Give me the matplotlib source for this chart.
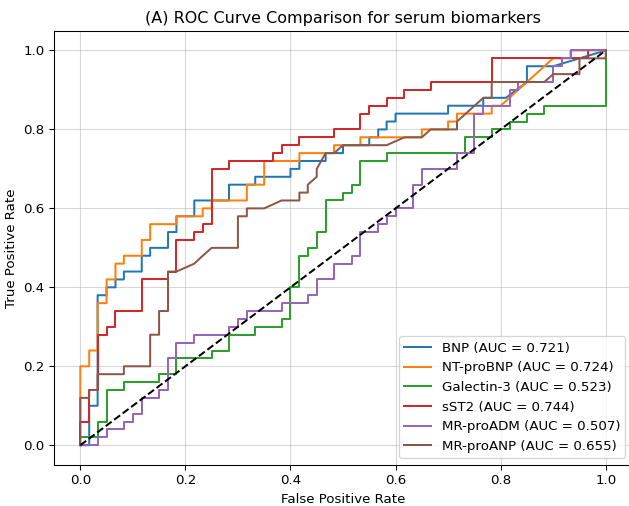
import numpy as np
import matplotlib
matplotlib.use("Agg")
import matplotlib.pyplot as plt

# ROC corner points (fpr, tpr)
bnp = [(0, 0), (0.017, 0), (0.017, 0.10), (0.033, 0.10), (0.033, 0.38), (0.05, 0.38), (0.05, 0.40),
       (0.067, 0.40), (0.067, 0.42), (0.083, 0.42), (0.083, 0.44), (0.117, 0.44), (0.117, 0.48),
       (0.133, 0.48), (0.133, 0.50), (0.167, 0.50), (0.167, 0.54), (0.183, 0.54), (0.183, 0.58),
       (0.217, 0.58), (0.217, 0.62), (0.283, 0.62), (0.283, 0.66), (0.333, 0.66), (0.333, 0.68),
       (0.40, 0.68), (0.40, 0.70), (0.417, 0.70), (0.417, 0.72), (0.467, 0.72), (0.467, 0.74),
       (0.50, 0.74), (0.50, 0.76), (0.55, 0.76), (0.55, 0.78), (0.567, 0.78), (0.567, 0.80),
       (0.583, 0.80), (0.583, 0.82), (0.60, 0.82), (0.60, 0.84), (0.70, 0.84), (0.70, 0.86),
       (0.767, 0.86), (0.767, 0.88), (0.81, 0.88), (0.85, 0.92), (0.85, 0.96), (0.90, 0.96), (1.0, 1.0)]

nt_probnp = [(0, 0), (0, 0.20), (0.017, 0.20), (0.017, 0.24), (0.033, 0.24), (0.033, 0.36), (0.05, 0.36),
             (0.05, 0.42), (0.067, 0.42), (0.067, 0.46), (0.083, 0.46), (0.083, 0.48), (0.117, 0.48),
             (0.117, 0.52), (0.133, 0.52), (0.133, 0.56), (0.183, 0.56), (0.183, 0.58), (0.233, 0.58),
             (0.233, 0.60), (0.25, 0.60), (0.25, 0.62), (0.317, 0.62), (0.317, 0.66), (0.35, 0.66),
             (0.35, 0.72), (0.417, 0.72), (0.417, 0.74), (0.483, 0.74), (0.483, 0.76), (0.533, 0.76),
             (0.533, 0.78), (0.65, 0.78), (0.65, 0.80), (0.70, 0.80), (0.70, 0.82), (0.717, 0.82),
             (0.717, 0.84), (0.783, 0.84), (0.783, 0.86), (0.80, 0.86), (0.90, 0.98), (0.933, 0.98),
             (0.933, 1.0), (1.0, 1.0)]

galectin3 = [(0, 0), (0, 0.02), (0.033, 0.02), (0.033, 0.06), (0.05, 0.06), (0.05, 0.14), (0.083, 0.14),
             (0.083, 0.16), (0.15, 0.16), (0.15, 0.18), (0.183, 0.18), (0.183, 0.22), (0.25, 0.22),
             (0.25, 0.24), (0.283, 0.24), (0.283, 0.28), (0.333, 0.28), (0.333, 0.30), (0.383, 0.30),
             (0.383, 0.32), (0.40, 0.32), (0.40, 0.40), (0.417, 0.40), (0.417, 0.48), (0.433, 0.48),
             (0.433, 0.50), (0.45, 0.50), (0.45, 0.54), (0.467, 0.54), (0.467, 0.62), (0.50, 0.62),
             (0.50, 0.64), (0.517, 0.64), (0.517, 0.66), (0.533, 0.66), (0.533, 0.72), (0.583, 0.72),
             (0.583, 0.74), (0.733, 0.74), (0.733, 0.78), (0.783, 0.78), (0.783, 0.80), (0.817, 0.80),
             (0.817, 0.82), (0.85, 0.82), (0.85, 0.84), (0.883, 0.84), (0.883, 0.86), (1.0, 0.86), (1.0, 1.0)]

sst2 = [(0, 0), (0, 0.06), (0.017, 0.06), (0.017, 0.14), (0.033, 0.14), (0.033, 0.28), (0.05, 0.28),
        (0.05, 0.30), (0.067, 0.30), (0.067, 0.34), (0.117, 0.34), (0.117, 0.42), (0.167, 0.42),
        (0.167, 0.44), (0.183, 0.44), (0.183, 0.52), (0.217, 0.52), (0.217, 0.54), (0.233, 0.54),
        (0.233, 0.56), (0.25, 0.56), (0.25, 0.70), (0.283, 0.70), (0.283, 0.72), (0.367, 0.72),
        (0.367, 0.74), (0.383, 0.74), (0.383, 0.76), (0.417, 0.76), (0.417, 0.78), (0.483, 0.78),
        (0.483, 0.80), (0.533, 0.80), (0.533, 0.84), (0.55, 0.84), (0.55, 0.86), (0.583, 0.86),
        (0.583, 0.88), (0.617, 0.88), (0.617, 0.90), (0.667, 0.90), (0.667, 0.92), (0.783, 0.92),
        (0.783, 0.98), (0.967, 0.98), (0.967, 1.0), (1.0, 1.0)]

mr_proadm = [(0, 0), (0.033, 0), (0.033, 0.02), (0.05, 0.02), (0.05, 0.04), (0.083, 0.04), (0.083, 0.06),
             (0.10, 0.06), (0.10, 0.08), (0.117, 0.08), (0.117, 0.12), (0.15, 0.12), (0.15, 0.14),
             (0.167, 0.14), (0.167, 0.22), (0.183, 0.22), (0.183, 0.26), (0.217, 0.26), (0.217, 0.28),
             (0.283, 0.28), (0.283, 0.30), (0.30, 0.30), (0.30, 0.32), (0.317, 0.32), (0.317, 0.34),
             (0.383, 0.34), (0.383, 0.36), (0.433, 0.36), (0.433, 0.38), (0.45, 0.38), (0.45, 0.42),
             (0.483, 0.42), (0.483, 0.46), (0.517, 0.46), (0.517, 0.48), (0.533, 0.48), (0.533, 0.54),
             (0.567, 0.54), (0.567, 0.56), (0.583, 0.56), (0.583, 0.58), (0.60, 0.58), (0.60, 0.60),
             (0.633, 0.60), (0.633, 0.66), (0.65, 0.66), (0.65, 0.70), (0.717, 0.70), (0.717, 0.74),
             (0.75, 0.74), (0.75, 0.84), (0.767, 0.84), (0.767, 0.86), (0.817, 0.86), (0.817, 0.90),
             (0.833, 0.90), (0.833, 0.92), (0.90, 0.92), (0.90, 0.96), (0.917, 0.96), (0.917, 0.98),
             (0.933, 0.98), (0.933, 1.0), (1.0, 1.0)]

mr_proanp = [(0, 0), (0, 0.12), (0.017, 0.12), (0.017, 0.14), (0.033, 0.14), (0.033, 0.18), (0.083, 0.18),
             (0.083, 0.20), (0.133, 0.20), (0.133, 0.28), (0.15, 0.28), (0.15, 0.34), (0.167, 0.34),
             (0.167, 0.44), (0.183, 0.44), (0.217, 0.46), (0.233, 0.48), (0.25, 0.50), (0.30, 0.50),
             (0.30, 0.58), (0.317, 0.58), (0.317, 0.60), (0.35, 0.60), (0.383, 0.62), (0.417, 0.62),
             (0.417, 0.64), (0.433, 0.64), (0.433, 0.66), (0.45, 0.68), (0.45, 0.70), (0.467, 0.74),
             (0.483, 0.74), (0.50, 0.76), (0.583, 0.76), (0.617, 0.78), (0.65, 0.78), (0.667, 0.80),
             (0.717, 0.80), (0.717, 0.82), (0.767, 0.88), (0.783, 0.88), (0.783, 0.92), (0.883, 0.92),
             (0.90, 0.94), (0.95, 0.94), (0.95, 0.98), (1.0, 0.98), (1.0, 1.0)]

names = ["BNP", "NT-proBNP", "Galectin-3", "sST2", "MR-proADM", "MR-proANP"]
aucs = [0.721, 0.724, 0.523, 0.744, 0.507, 0.655]
curves = [bnp, nt_probnp, galectin3, sst2, mr_proadm, mr_proanp]

fig = plt.figure(figsize=(629 / 96, 506 / 96), dpi=96)
# axes run slightly past the right edge, as in the cropped original
ax = fig.add_axes([54 / 629, 41 / 506, 578 / 629, 434.3 / 506])

for name, auc, pts in zip(names, aucs, curves):
    pts = np.array(pts)
    ax.plot(pts[:, 0], pts[:, 1], label=f"{name} (AUC = {auc:.3f})")

ax.plot([0, 1], [0, 1], 'k--')
ax.set_xlabel('False Positive Rate')
ax.set_ylabel('True Positive Rate')
ax.set_title('(A) ROC Curve Comparison for serum biomarkers')
ax.legend(loc='lower right')
ax.grid(True, alpha=0.5)

fig.savefig('out.png', dpi=96)
